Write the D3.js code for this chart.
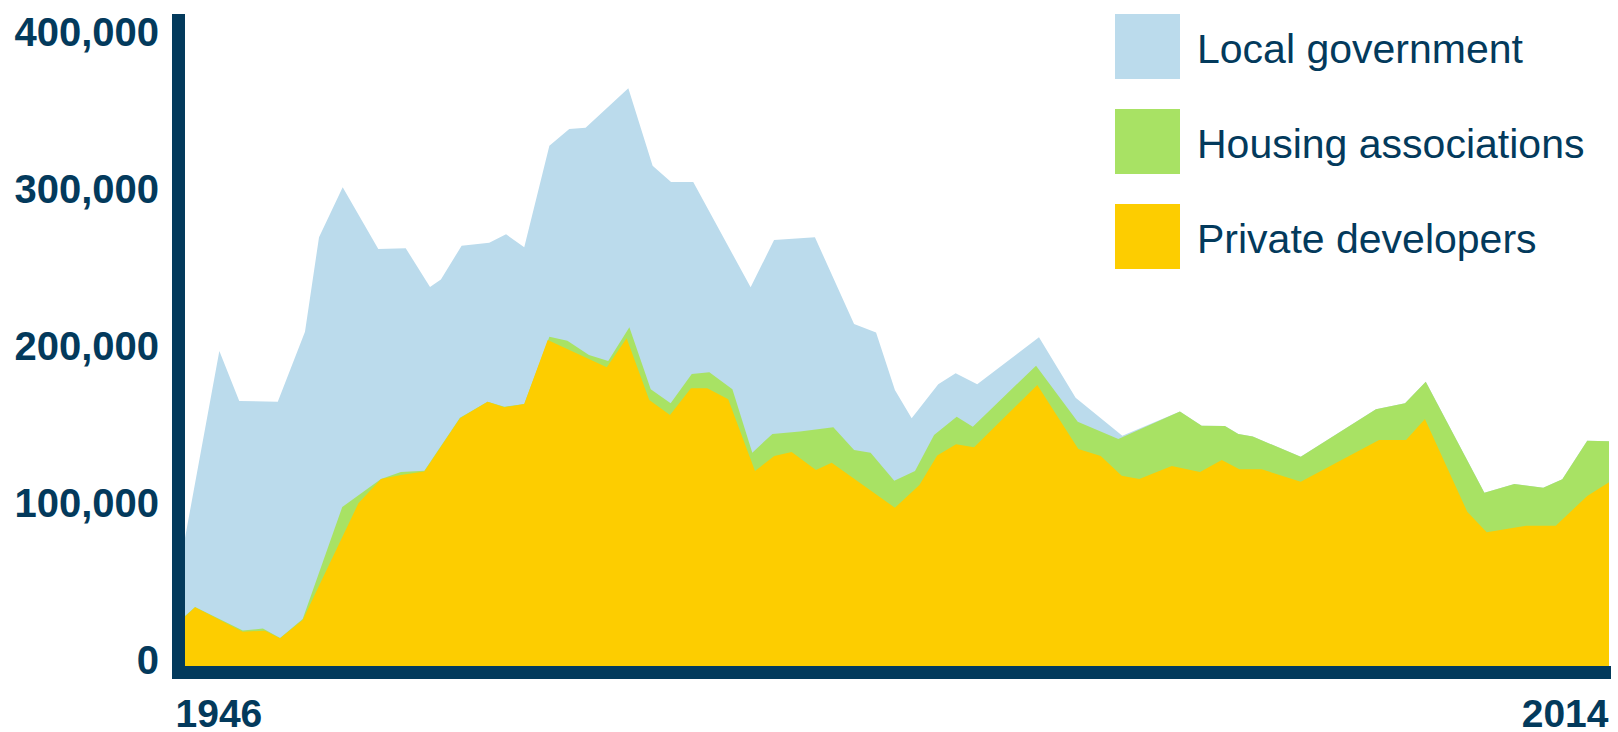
<!DOCTYPE html>
<html>
<head>
<meta charset="utf-8">
<script src="https://cdn.jsdelivr.net/npm/d3@7"></script>
<style>
  html, body { margin: 0; padding: 0; background: #ffffff; }
  svg { display: block; }
</style>
</head>
<body>
<svg id="chart" width="1618" height="732"></svg>
<script>
// Upper edge of each band, in homes completed per year: [year, value].
// Bands are layered: local government sits above housing associations,
// which sit above private developers.
const localGovTop = [
  [1946.00, 81500], [1947.64, 200600], [1948.59, 168800], [1950.43, 168300],
  [1951.73, 212900], [1952.40, 273100], [1953.53, 304900], [1955.23, 265600],
  [1956.54, 266100], [1957.70, 241400], [1958.22, 246200], [1959.21, 267700],
  [1960.53, 269600], [1961.33, 275000], [1962.20, 266700], [1963.40, 331400],
  [1964.35, 342000], [1965.13, 342900], [1967.17, 368000], [1968.33, 318700],
  [1969.21, 308300], [1970.27, 308300], [1973.01, 241200], [1974.13, 271300],
  [1976.08, 273100], [1977.95, 217800], [1979.00, 212500], [1979.90, 175800],
  [1980.70, 157800], [1981.97, 179400], [1982.80, 186400], [1983.83, 179400],
  [1986.78, 209400], [1988.53, 170900], [1990.76, 146700], [1993.51, 162100],
  [1994.55, 153100], [1995.66, 152900], [1996.30, 147800], [1996.99, 146100],
  [1999.28, 133300], [2002.87, 163500], [2004.26, 167300], [2005.25, 181100],
  [2008.05, 110400], [2009.48, 115900], [2010.86, 113600], [2011.77, 118900],
  [2012.96, 143500], [2014.00, 143100]
];

const housingTop = [
  [1946.00, 31800], [1946.48, 37600], [1948.76, 22600], [1949.72, 23900],
  [1950.54, 17800], [1951.62, 29900], [1953.51, 101300], [1955.36, 119100],
  [1956.31, 123600], [1957.43, 124400], [1959.13, 158200], [1960.45, 168300],
  [1961.25, 165200], [1962.20, 166900], [1963.40, 209700], [1964.26, 207200],
  [1965.29, 198100], [1966.21, 194300], [1967.22, 215700], [1968.24, 176200],
  [1969.19, 167300], [1970.20, 186000], [1971.04, 187100], [1972.14, 176200],
  [1973.09, 135900], [1974.05, 147800], [1975.37, 149400], [1976.96, 152000],
  [1977.95, 137600], [1978.74, 135900], [1979.87, 118000], [1980.86, 124200],
  [1981.77, 147100], [1982.85, 158800], [1983.62, 152400], [1986.64, 191300],
  [1988.63, 155600], [1990.57, 144600], [1993.51, 162100], [1994.55, 153100],
  [1995.66, 152900], [1996.30, 147800], [1996.99, 146100], [1999.28, 133300],
  [2002.87, 163500], [2004.26, 167300], [2005.25, 181100], [2008.05, 110400],
  [2009.48, 115900], [2010.86, 113600], [2011.77, 118900], [2012.96, 143500],
  [2014.00, 143100]
];

const privateTop = [
  [1946.00, 31400], [1946.48, 37400], [1948.76, 21800], [1949.82, 22500],
  [1950.54, 17600], [1951.62, 29300], [1954.28, 103600], [1955.36, 119100],
  [1956.31, 121700], [1957.43, 123900], [1959.13, 157800], [1960.45, 168300],
  [1961.25, 164800], [1962.20, 166900], [1963.32, 207600], [1966.14, 190300],
  [1967.09, 208700], [1968.17, 169400], [1969.16, 159900], [1970.16, 176900],
  [1970.94, 176900], [1971.94, 169900], [1973.22, 124200], [1974.14, 133800],
  [1974.97, 136300], [1976.13, 124800], [1976.88, 129500], [1979.90, 100800],
  [1981.07, 115300], [1981.92, 134000], [1982.82, 141200], [1983.68, 139300],
  [1986.70, 179000], [1988.66, 138200], [1989.73, 133800], [1990.73, 121200],
  [1991.57, 119100], [1993.12, 127400], [1994.47, 123600], [1995.51, 131200],
  [1996.35, 125300], [1997.42, 125300], [1999.28, 117400], [2003.02, 143900],
  [2004.31, 143900], [2005.21, 157300], [2007.23, 98300], [2008.16, 85200],
  [2010.07, 89400], [2011.46, 89400], [2012.96, 108300], [2014.00, 117000]
];

const seriesNames = ["Local government", "Housing associations", "Private developers"];
const seriesColors = ["#bbdbec", "#a8e264", "#fdcd00"];
const yTicks = [0, 100000, 200000, 300000, 400000];
const xTicks = [1946, 2014];

const navy = "#033a5c";
const fontFamily = "'Liberation Sans', Arial, Helvetica, sans-serif";

const svg = d3.select("#chart");

const x = d3.scaleLinear().domain([1946, 2014]).range([185, 1609]);
const y = d3.scaleLinear().domain([0, 400000]).range([666, 38]);

// Bands, drawn back to front
const area = d3.area()
  .x(d => x(d[0]))
  .y0(y(0))
  .y1(d => y(d[1]));

svg.append("g")
  .selectAll("path")
  .data([localGovTop, housingTop, privateTop])
  .join("path")
  .attr("d", area)
  .attr("fill", (d, i) => seriesColors[i]);

// Thick axis frame
const barW = 13;
const [xLeft, xRight] = x.range();
svg.append("rect")
  .attr("x", xLeft - barW).attr("y", 14)
  .attr("width", barW).attr("height", y(0) + barW - 14)
  .attr("fill", navy);
svg.append("rect")
  .attr("x", xLeft - barW).attr("y", y(0))
  .attr("width", xRight + 2 - (xLeft - barW)).attr("height", barW)
  .attr("fill", navy);

// Y axis labels
const yAxis = svg.append("g")
  .attr("transform", `translate(${xLeft},0)`)
  .attr("font-family", fontFamily)
  .call(d3.axisLeft(y).tickValues(yTicks).tickFormat(d3.format(",")).tickSize(0).tickPadding(26));
yAxis.select(".domain").remove();
yAxis.selectAll("text")
  .attr("fill", navy)
  .attr("font-size", 40)
  .attr("font-weight", "bold")
  .attr("y", -7)
  .attr("dy", "0.358em");

// X axis labels (first and last year only)
const xAxis = svg.append("g")
  .attr("transform", `translate(0,${y(0)})`)
  .attr("font-family", fontFamily)
  .call(d3.axisBottom(x).tickValues(xTicks).tickFormat(d3.format("d")).tickSize(0));
xAxis.select(".domain").remove();
xAxis.selectAll("text")
  .attr("fill", navy)
  .attr("font-size", 39)
  .attr("font-weight", "bold")
  .attr("dy", 0)
  .attr("y", 61)
  .attr("text-anchor", (d, i) => i === 0 ? "start" : "end")
  .attr("x", (d, i) => i === 0 ? -10 : -1);

// Legend
const legend = svg.append("g")
  .attr("transform", "translate(1115,14)")
  .attr("font-family", fontFamily);
const rows = legend.selectAll("g")
  .data(seriesNames)
  .join("g")
  .attr("transform", (d, i) => `translate(0,${i * 95})`);
rows.append("rect")
  .attr("width", 65).attr("height", 65)
  .attr("fill", (d, i) => seriesColors[i]);
rows.append("text")
  .attr("x", 82).attr("y", 49)
  .attr("font-size", 41)
  .attr("fill", navy)
  .text(d => d);
</script>
</body>
</html>
